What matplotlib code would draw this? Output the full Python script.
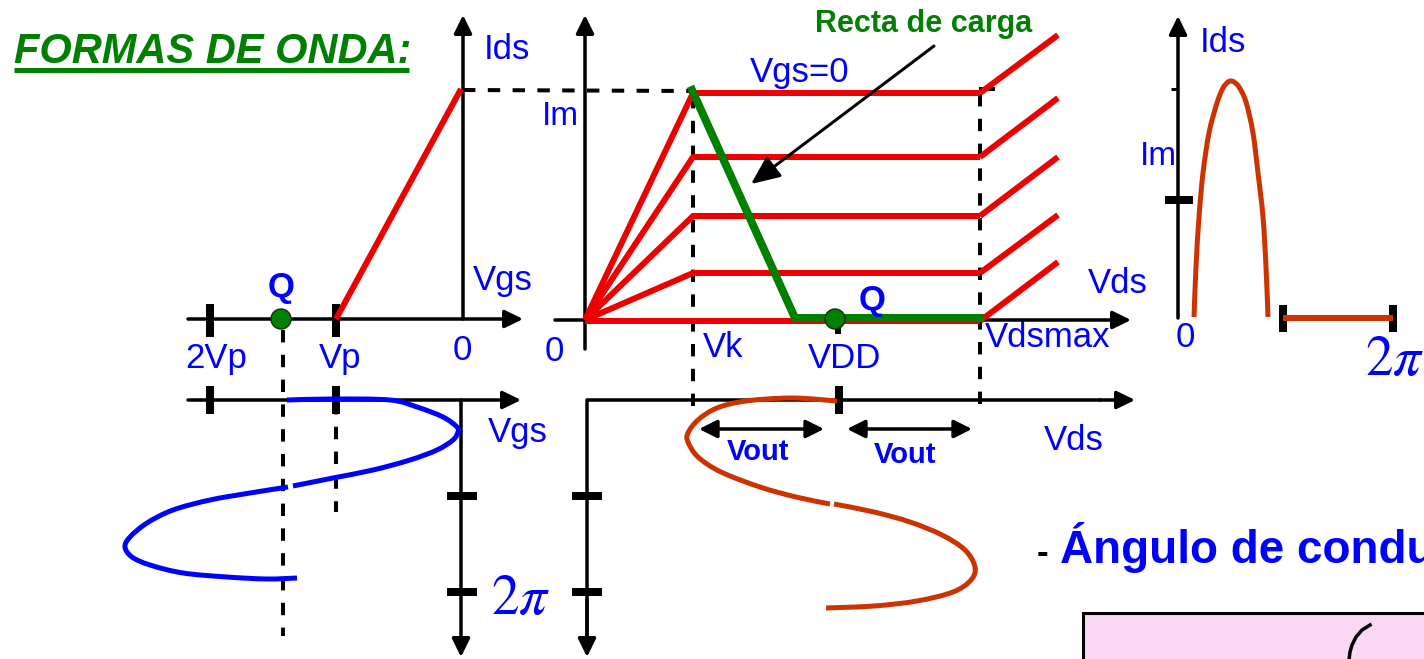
import matplotlib
matplotlib.use("Agg")
import matplotlib.pyplot as plt
from matplotlib.patches import Circle, Rectangle, PathPatch
from matplotlib.path import Path

# ---------------- data (picture coordinates) ----------------
# upper-left: transfer characteristic Ids(Vgs)
transfer_x = [336, 461]
transfer_y = [319, 89]
vgs_ticks_x = [210, 336]          # 2Vp, Vp

# middle: output characteristics Ids(Vds)
origin_xy = (585, 320)
knee_x = 693                       # Vk
sat_end_x = 980                    # Vdsmax
ext_end_x = 1058
level_y = [93, 157, 216, 273]      # Ids levels (Vgs=0 at top)
bottom_level_y = 321
ext_end_y = [35, 98, 157, 215, 262]
load_x = [692, 795, 980]           # Recta de carga
load_y = [90, 318, 318]
q_mid_x = 835

# lower-left: Vgs(t) waveform (two pieces)
vgs_wave1_x = [287, 333, 390, 417, 443, 457, 458, 453, 437, 410, 373, 333, 293]
vgs_wave1_y = [400, 399, 400, 407, 417, 427, 432, 440, 450, 460, 470, 478, 486]
vgs_wave2_x = [288, 250, 210, 173, 147, 130, 125, 132, 150, 183, 227, 267, 297]
vgs_wave2_y = [487, 493, 500, 510, 523, 537, 547, 557, 565, 573, 577, 579, 578]

# lower-middle: Vds(t) waveform (two pieces)
vds_wave1_x = [837, 792, 746, 717, 698, 688, 688, 698, 721, 760, 796, 830]
vds_wave1_y = [401, 398, 401, 408, 420, 433, 442, 457, 472, 487, 497, 504]
vds_wave2_x = [834, 874, 910, 942, 965, 975, 971, 953, 917, 874, 826]
vds_wave2_y = [504, 512, 522, 535, 550, 567, 580, 592, 601, 606, 608]

# right: Ids(t) pulse
ids_pulse_x = [1194, 1196, 1199, 1203, 1209, 1217, 1223, 1228, 1231, 1234, 1239, 1246, 1253, 1258, 1263, 1266, 1268]
ids_pulse_y = [317, 267, 217, 173, 133, 103, 88, 82, 81, 82, 87, 102, 133, 173, 217, 267, 317]
ids_zero_x = [1283, 1393]

RED = "#EE0000"
GREEN = "#008000"
BLUE = "#0000FF"
ORANGE = "#CC3300"
FONT = "Liberation Sans"

plt.rcParams["mathtext.fontset"] = "stix"

fig = plt.figure(figsize=(14.24, 6.59), dpi=100)
ax = fig.add_axes([0, 0, 1, 1])
ax.set_xlim(0, 1424)
ax.set_ylim(659, 0)
ax.axis("off")

PX = 0.72


def line(xs, ys, color="k", w=3.5, z=2, **kw):
    ax.plot(xs, ys, color=color, lw=w * PX, solid_capstyle="butt", zorder=z, **kw)


def smooth(xs, ys, color, w=5, z=3):
    """Stroke a smooth (Catmull-Rom as cubic Bezier) path through the read points."""
    pts = list(zip(xs, ys))
    n = len(pts)
    verts = [pts[0]]
    codes = [Path.MOVETO]
    for i in range(n - 1):
        p0 = pts[max(i - 1, 0)]
        p1 = pts[i]
        p2 = pts[i + 1]
        p3 = pts[min(i + 2, n - 1)]
        c1 = (p1[0] + (p2[0] - p0[0]) / 6.0, p1[1] + (p2[1] - p0[1]) / 6.0)
        c2 = (p2[0] - (p3[0] - p1[0]) / 6.0, p2[1] - (p3[1] - p1[1]) / 6.0)
        verts += [c1, c2, p2]
        codes += [Path.CURVE4] * 3
    ax.add_patch(PathPatch(Path(verts, codes), fill=False, edgecolor=color,
                           lw=w * PX, capstyle="butt", joinstyle="round", zorder=z))


def dashed(xs, ys, w=4):
    ax.plot(xs, ys, color="k", lw=w * PX, linestyle=(0, (3.1, 3.1)), zorder=2)


def arrow(x0, y0, x1, y1, w=3.5, style="-|>", hl=0.55, hw=0.27, ms=20):
    ax.annotate("", xy=(x1, y1), xytext=(x0, y0),
                arrowprops=dict(arrowstyle=f"{style},head_length={hl},head_width={hw}",
                                lw=w * PX, color="k", shrinkA=0, shrinkB=0,
                                mutation_scale=ms), zorder=3)


def txt(x, y, s, size=25, color=BLUE, ha="left", weight="normal", style="normal", **kw):
    ax.text(x, y, s, fontsize=size, color=color, ha=ha, va="baseline",
            family=FONT, fontweight=weight, fontstyle=style, zorder=5, **kw)


def pi_txt(x, y, s=r"$2\pi$", size=40):
    ax.text(x, y, s, fontsize=size, color=BLUE, ha="left", va="baseline", zorder=5)


# ---------------- title ----------------
txt(14, 63, "FORMAS DE ONDA:", size=30, color=GREEN, weight="bold", style="italic")
line([14, 409], [70, 70], color=GREEN, w=5)

# ---------------- upper-left panel ----------------
arrow(188, 319, 523, 319)
arrow(463, 319, 463, 15)
for tx in vgs_ticks_x:
    line([tx, tx], [304, 337], w=8)
line(transfer_x, transfer_y, color=RED, w=6, z=3)
dashed([463, 693], [90, 91])
dashed([283, 283], [330, 636])
dashed([336, 336], [402, 512])
ax.add_patch(Circle((281, 319), 10, facecolor=GREEN, edgecolor="#103010", lw=1, zorder=4))
txt(281, 297, "Q", weight="bold", ha="center")
txt(484, 59, "Ids")
txt(473, 290, "Vgs")
txt(462, 360, "0", ha="center")
txt(216, 368, "2Vp", ha="center")
txt(340, 368, "Vp", ha="center")

# ---------------- middle panel ----------------
arrow(555, 320, 1131, 320)
arrow(585, 349, 585, 15)
dashed([knee_x, knee_x], [96, 408])
dashed([sat_end_x, sat_end_x], [94, 408])
line([sat_end_x - 1, sat_end_x + 15], [89, 89], w=4)
ox, oy = origin_xy
for ly in level_y:
    line([ox, knee_x, sat_end_x], [oy, ly, ly], color=RED, w=6, z=3)
line([ox, sat_end_x], [bottom_level_y, bottom_level_y], color=RED, w=6, z=3)
for ly, ey in zip(level_y + [bottom_level_y], ext_end_y):
    line([sat_end_x, ext_end_x], [ly, ey], color=RED, w=6, z=3)
ax.plot(load_x, load_y, color=GREEN, lw=8 * PX, solid_joinstyle="miter", zorder=4)
line([838, 838], [322, 334], w=6)
ax.add_patch(Circle((q_mid_x, 319), 10, facecolor=GREEN, edgecolor="#103010", lw=1, zorder=5))
txt(872, 310, "Q", weight="bold", ha="center")
txt(815, 32, "Recta de carga", size=22, color=GREEN, weight="bold")
arrow(934, 46, 751, 184, w=3, hl=0.8, hw=0.35, ms=22)
txt(750, 82, "Vgs=0")
txt(542, 125, "Im", size=24)
txt(554, 361, "0", ha="center")
txt(703, 357, "Vk")
txt(845, 368, "VDD", ha="center")
txt(985, 347, "Vdsmax")
txt(1088, 293, "Vds")

# ---------------- lower-left panel ----------------
arrow(188, 400, 521, 400)
arrow(461, 400, 461, 657)
for tx in vgs_ticks_x:
    line([tx, tx], [386, 414], w=8)
for ty in [496, 592]:
    line([447, 477], [ty, ty], w=8)
smooth(vgs_wave1_x, vgs_wave1_y, BLUE, w=5)
smooth(vgs_wave2_x, vgs_wave2_y, BLUE, w=5)
txt(488, 442, "Vgs")
pi_txt(491, 614)

# ---------------- lower-middle panel ----------------
ax.plot([587, 587, 1100], [640, 400, 400], color="k", lw=3.5 * PX, zorder=2)
arrow(1100, 400, 1135, 400)
arrow(587, 600, 587, 657)
line([839, 839], [386, 414], w=8)
for ty in [496, 592]:
    line([572, 602], [ty, ty], w=8)
smooth(vds_wave1_x, vds_wave1_y, ORANGE, w=5)
smooth(vds_wave2_x, vds_wave2_y, ORANGE, w=5)
arrow(699, 429, 824, 429, w=3.5, style="<|-|>", hl=0.6, hw=0.3, ms=18)
arrow(847, 429, 972, 429, w=3.5, style="<|-|>", hl=0.6, hw=0.3, ms=18)
txt(758, 460, "Vout", size=21, weight="bold", ha="center")
txt(905, 463, "Vout", size=21, weight="bold", ha="center")
txt(1044, 450, "Vds")

# ---------------- right panel ----------------
arrow(1178, 318, 1178, 16)
arrow(1178, 318, 1432, 318)
line([1171, 1178], [89, 89], w=3)
line([1165, 1193], [200, 200], w=8)
smooth(ids_pulse_x, ids_pulse_y, ORANGE, w=5)
line(ids_zero_x, [318, 318], color=ORANGE, w=6, z=3)
for tx in ids_zero_x:
    line([tx, tx], [305, 332], w=8)
txt(1200, 52, "Ids")
txt(1140, 165, "Im", size=24)
txt(1185, 347, "0", ha="center")
pi_txt(1365, 375)

# ---------------- bottom-right ----------------
txt(1037, 563, "-", size=25, color="k", weight="bold")
txt(1060, 563, "Ángulo de conducción", size=33, weight="bold")
ax.add_patch(Rectangle((1083, 613), 400, 80, facecolor="#FAD7F5", edgecolor="k", lw=2.2, zorder=2))
ax.plot([1370, 1362, 1356, 1352, 1350, 1349], [625, 630, 637, 645, 652, 660],
        color="k", lw=2.5, zorder=3)

fig.savefig("out.png", dpi=100)
